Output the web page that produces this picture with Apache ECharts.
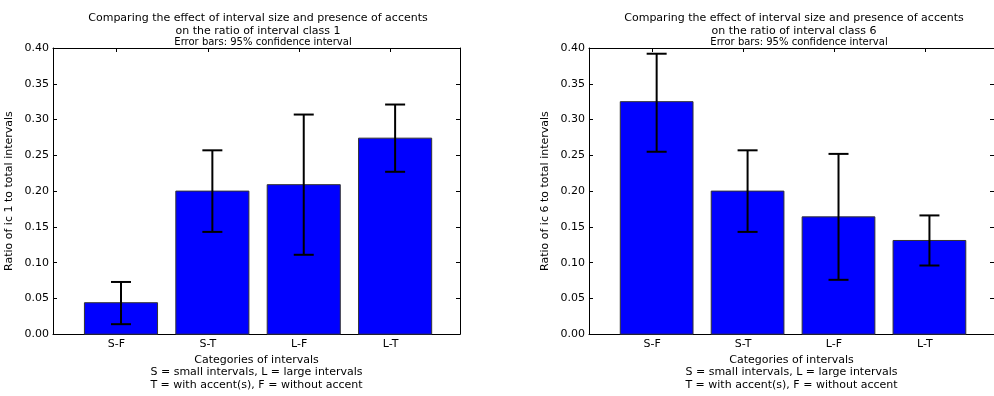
<!DOCTYPE html>
<html>
<head>
<meta charset="utf-8">
<script src="https://cdn.jsdelivr.net/npm/echarts@6/dist/echarts.min.js"></script>
<style>
  html, body { margin: 0; padding: 0; background: #fff; }
  #chart { width: 994px; height: 396px; }
</style>
</head>
<body>
<div id="chart"></div>
<script>
const categories = ['S-F', 'S-T', 'L-F', 'L-T'];

// interval class 1
const ic1Ratio = [0.044, 0.200, 0.209, 0.274];
const ic1Low = [0.014, 0.143, 0.111, 0.227];
const ic1High = [0.073, 0.257, 0.307, 0.321];

// interval class 6
const ic6Ratio = [0.325, 0.200, 0.164, 0.131];
const ic6Low = [0.255, 0.143, 0.076, 0.096];
const ic6High = [0.392, 0.257, 0.252, 0.166];

const FONT = 'DejaVu Sans';
const chart = echarts.init(document.getElementById('chart'), null, { renderer: 'canvas' });

// matplotlib put the bars at i + 0.05 with width 0.8, ticks at i
const barOffset = 0.05;
const barWidth = 0.8;

function barItem(params, api) {
  const x = api.value(0) + barOffset;
  const top = api.coord([x - barWidth / 2, api.value(1)]);
  const bottom = api.coord([x + barWidth / 2, 0]);
  return {
    type: 'rect',
    shape: { x: top[0], y: top[1], width: bottom[0] - top[0], height: bottom[1] - top[1] },
    style: { fill: '#0000ff', stroke: '#333', lineWidth: 1 },
  };
}

function errorItem(params, api) {
  const x = api.value(0) + barOffset;
  const hi = api.coord([x, api.value(2)]);
  const lo = api.coord([x, api.value(1)]);
  const cap = 10;
  const style = { stroke: '#000', lineWidth: 2 };
  return {
    type: 'group',
    children: [
      { type: 'line', shape: { x1: hi[0], y1: hi[1], x2: lo[0], y2: lo[1] }, style },
      { type: 'line', shape: { x1: hi[0] - cap, y1: hi[1], x2: hi[0] + cap, y2: hi[1] }, style },
      { type: 'line', shape: { x1: lo[0] - cap, y1: lo[1], x2: lo[0] + cap, y2: lo[1] }, style },
    ],
  };
}

const xTickValues = categories.map((c, i) => i);
const axisLineStyle = { show: true, onZero: false, lineStyle: { color: '#000', width: 1 } };
const tickStyle = { inside: true, length: 4, lineStyle: { color: '#000', width: 1 } };

function makeX(gridIndex, showLabels) {
  return {
    type: 'value',
    gridIndex,
    min: -0.694,
    max: 3.76,
    position: showLabels ? 'bottom' : 'top',
    axisLine: axisLineStyle,
    axisTick: Object.assign({ customValues: xTickValues }, tickStyle),
    splitLine: { show: false },
    axisLabel: showLabels
      ? {
          customValues: xTickValues,
          formatter: (v) => categories[Math.round(v)],
          color: '#000',
          fontFamily: FONT,
          fontSize: 11,
          margin: 4,
        }
      : { show: false },
    name: showLabels
      ? 'Categories of intervals\nS = small intervals, L = large intervals\nT = with accent(s), F = without accent'
      : '',
    nameLocation: 'middle',
    nameGap: 17,
    nameTextStyle: {
      color: '#000',
      fontFamily: FONT,
      fontSize: 11,
      lineHeight: 12.3,
      verticalAlign: 'top',
    },
  };
}

function makeY(gridIndex, left, ic) {
  return {
    type: 'value',
    gridIndex,
    min: 0,
    max: 0.4,
    interval: 0.05,
    position: left ? 'left' : 'right',
    axisLine: axisLineStyle,
    axisTick: tickStyle,
    splitLine: { show: false },
    axisLabel: left
      ? {
          formatter: (v) => v.toFixed(2),
          color: '#000',
          fontFamily: FONT,
          fontSize: 11,
          margin: 4,
        }
      : { show: false },
    name: left ? 'Ratio of ic ' + ic + ' to total intervals' : '',
    nameLocation: 'middle',
    nameGap: 38,
    nameTextStyle: { color: '#000', fontFamily: FONT, fontSize: 11 },
  };
}

function titleText(x, ic) {
  return [
    {
      text: 'Comparing the effect of interval size and presence of accents\non the ratio of interval class ' + ic,
      left: x - 4,
      top: 7,
      textAlign: 'center',
      textStyle: { color: '#000', fontFamily: FONT, fontSize: 11, fontWeight: 'normal', lineHeight: 12.5 },
    },
    {
      text: 'Error bars: 95% confidence interval',
      left: x + 1,
      top: 32,
      textAlign: 'center',
      textStyle: { color: '#000', fontFamily: FONT, fontSize: 10, fontWeight: 'normal' },
    },
  ];
}

function seriesFor(ratio, low, high, xIndex, yIndex) {
  return [
    {
      type: 'custom',
      xAxisIndex: xIndex,
      yAxisIndex: yIndex,
      renderItem: barItem,
      data: ratio.map((v, i) => [i, v]),
      silent: true,
      clip: false,
    },
    {
      type: 'custom',
      xAxisIndex: xIndex,
      yAxisIndex: yIndex,
      renderItem: errorItem,
      data: ratio.map((v, i) => [i, low[i], high[i]]),
      silent: true,
      clip: false,
    },
  ];
}

chart.setOption({
  animation: false,
  backgroundColor: '#fff',
  title: [].concat(titleText(257, 1), titleText(793, 6)),
  grid: [
    { left: 53, top: 48, width: 407, height: 290 },
    { left: 589, top: 48, width: 407, height: 290 },
  ],
  xAxis: [makeX(0, true), makeX(0, false), makeX(1, true), makeX(1, false)],
  yAxis: [makeY(0, true, 1), makeY(0, false, 1), makeY(1, true, 6), makeY(1, false, 6)],
  series: [].concat(
    seriesFor(ic1Ratio, ic1Low, ic1High, 0, 0),
    seriesFor(ic6Ratio, ic6Low, ic6High, 2, 2)
  ),
});
</script>
</body>
</html>
